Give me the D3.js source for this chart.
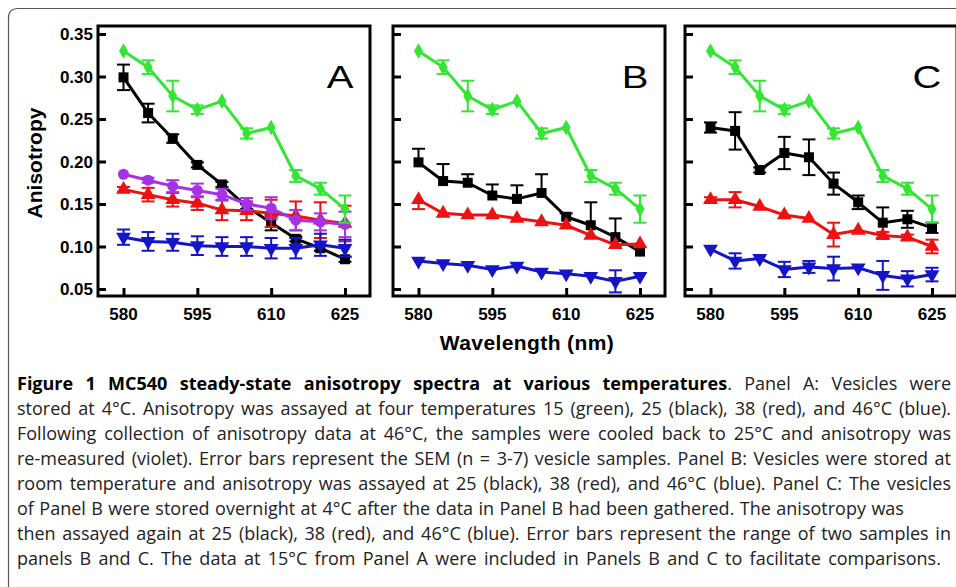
<!DOCTYPE html>
<html><head><meta charset="utf-8">
<script src="https://cdn.jsdelivr.net/npm/d3@7"></script>
<style>
html,body{margin:0;padding:0;background:#fff;}
svg{display:block;}
</style></head>
<body>
<svg id="c" width="956" height="587"></svg>
<script>
// ---------------- DATA ----------------
const wavelengths = [580, 585, 590, 595, 600, 605, 610, 615, 620, 625];
const xTicks = [580, 595, 610, 625];
const yTicks = [0.05, 0.10, 0.15, 0.20, 0.25, 0.30, 0.35];
const yTickLabels = ["0.05", "0.10", "0.15", "0.20", "0.25", "0.30", "0.35"];
const panelNames = ["A", "B", "C"];

// 15 °C (green), shared by all panels
const green15 = [0.330, 0.311, 0.277, 0.261, 0.271, 0.233, 0.240, 0.183, 0.168, 0.144];
const green15Err = [0, 0.008, 0.018, 0.005, 0, 0.006, 0, 0.007, 0.007, 0.016];

// Panel A
const aBlack25 = [0.299, 0.257, 0.227, 0.196, 0.173, 0.147, 0.128, 0.109, 0.098, 0.085];
const aBlack25Err = [0.015, 0.011, 0.005, 0.003, 0.003, 0.003, 0.009, 0.003, 0.003, 0.003];
const aRed38 = [0.167, 0.161, 0.155, 0.151, 0.143, 0.142, 0.139, 0.136, 0.131, 0.127];
const aRed38Err = [0.003, 0.008, 0.008, 0.008, 0.012, 0.011, 0.016, 0.017, 0.021, 0.021];
const aBlue46 = [0.111, 0.106, 0.105, 0.101, 0.100, 0.100, 0.098, 0.098, 0.102, 0.098];
const aBlue46Err = [0.009, 0.011, 0.010, 0.011, 0.011, 0.011, 0.012, 0.012, 0.013, 0.010];
const aViolet25 = [0.185, 0.178, 0.171, 0.166, 0.161, 0.150, 0.145, 0.131, 0.129, 0.126];
const aViolet25Err = [0, 0.003, 0.007, 0.008, 0.007, 0.007, 0.013, 0.012, 0.010, 0.015];

// Panel B
const bBlack25 = [0.199, 0.177, 0.175, 0.160, 0.156, 0.163, 0.135, 0.125, 0.111, 0.094];
const bBlack25ErrUp = [0.016, 0.020, 0.010, 0.013, 0.016, 0.022, 0.004, 0.027, 0.022, 0];
const bRed38 = [0.155, 0.139, 0.137, 0.137, 0.133, 0.129, 0.125, 0.113, 0.102, 0.103];
const bRed38ErrDown = [0.011, 0, 0, 0, 0, 0, 0, 0, 0, 0];
const bBlue46 = [0.083, 0.080, 0.078, 0.073, 0.077, 0.070, 0.068, 0.065, 0.059, 0.065];
const bBlue46Err = [0, 0, 0, 0, 0, 0, 0, 0, 0.013, 0];

// Panel C
const cBlack25 = [0.240, 0.236, 0.190, 0.210, 0.205, 0.174, 0.152, 0.128, 0.132, 0.122];
const cBlack25Err = [0.006, 0.022, 0.003, 0.019, 0.021, 0.013, 0.008, 0.018, 0.010, 0.006];
const cRed38 = [0.155, 0.155, 0.147, 0.137, 0.133, 0.114, 0.119, 0.113, 0.111, 0.100];
const cRed38Err = [0.003, 0.009, 0, 0, 0, 0.014, 0, 0.004, 0.003, 0.008];
const cBlue46 = [0.097, 0.083, 0.086, 0.073, 0.076, 0.074, 0.075, 0.066, 0.062, 0.067];
const cBlue46Err = [0, 0.009, 0, 0.009, 0.007, 0.014, 0, 0.017, 0.009, 0.008];

const yLabel = "Anisotropy";
const xLabel = "Wavelength (nm)";

const captionBold = "Figure 1 MC540 steady-state anisotropy spectra at various temperatures";
const captionLines = [
  ". Panel A: Vesicles were",
  "stored at 4°C. Anisotropy was assayed at four temperatures 15 (green), 25 (black), 38 (red), and 46°C (blue).",
  "Following collection of anisotropy data at 46°C, the samples were cooled back to 25°C and anisotropy was",
  "re-measured (violet). Error bars represent the SEM (n = 3-7) vesicle samples. Panel B: Vesicles were stored at",
  "room temperature and anisotropy was assayed at 25 (black), 38 (red), and 46°C (blue). Panel C: The vesicles",
  "of Panel B were stored overnight at 4°C after the data in Panel B had been gathered. The anisotropy was",
  "then assayed again at 25 (black), 38 (red), and 46°C (blue). Error bars represent the range of two samples in",
  "panels B and C. The data at 15°C from Panel A were included in Panels B and C to facilitate comparisons."
];

// ---------------- STYLE ----------------
const COL = {green: "#33e633", black: "#000000", red: "#ee1111", blue: "#1414c8", violet: "#a632e6"};

const panels = [
  {name: "A", left: 98, series: [
    {v: aBlack25, e: aBlack25Err, mode: "both", c: COL.black, sym: "square"},
    {v: aRed38, e: aRed38Err, mode: "both", c: COL.red, sym: "tri"},
    {v: aBlue46, e: aBlue46Err, mode: "both", c: COL.blue, sym: "triDown"},
    {v: aViolet25, e: aViolet25Err, mode: "both", c: COL.violet, sym: "circle"},
    {v: green15, e: green15Err, mode: "both", c: COL.green, sym: "diamond"}
  ]},
  {name: "B", left: 393, series: [
    {v: bBlack25, e: bBlack25ErrUp, mode: "up", c: COL.black, sym: "square"},
    {v: bRed38, e: bRed38ErrDown, mode: "down", c: COL.red, sym: "tri"},
    {v: bBlue46, e: bBlue46Err, mode: "both", c: COL.blue, sym: "triDown"},
    {v: green15, e: green15Err, mode: "both", c: COL.green, sym: "diamond"}
  ]},
  {name: "C", left: 685, series: [
    {v: cBlack25, e: cBlack25Err, mode: "both", c: COL.black, sym: "square"},
    {v: cRed38, e: cRed38Err, mode: "both", c: COL.red, sym: "tri"},
    {v: cBlue46, e: cBlue46Err, mode: "both", c: COL.blue, sym: "triDown"},
    {v: green15, e: green15Err, mode: "both", c: COL.green, sym: "diamond"}
  ]}
];

const svg = d3.select("#c");
const FW = 272, TOP = 26, BOT = 296;
const AX = "'Liberation Sans', Arial, sans-serif";

// outer rounded frame
svg.append("path")
  .attr("d", "M8.5,600 L8.5,18 Q8.5,8.5 18,8.5 L970,8.5")
  .attr("fill", "none").attr("stroke", "#555").attr("stroke-width", 1.2);

const y = d3.scaleLinear().domain([0.05, 0.35]).range([289, 34]);

const symbols = {
  square: d3.symbol().type(d3.symbolSquare).size(100),
  tri: d3.symbol().type(d3.symbolTriangle).size(95),
  triDown: d3.symbol().type(d3.symbolTriangle).size(95),
  circle: d3.symbol().type(d3.symbolCircle).size(95),
  diamond: d3.symbol().type(d3.symbolDiamond).size(70)
};

panels.forEach((p, pi) => {
  const x = d3.scaleLinear().domain([580, 625]).range([p.left + 25.5, p.left + 247]);
  const g = svg.append("g");

  // ticks (inward)
  const yAxis = d3.axisRight(y).tickValues(yTicks).tickSize(8).tickFormat("");
  g.append("g").attr("transform", `translate(${p.left},0)`).call(yAxis)
    .call(s => s.select(".domain").remove())
    .selectAll("line").attr("stroke", "#000").attr("stroke-width", 3);
  const xAxis = d3.axisTop(x).tickValues(xTicks).tickSize(8).tickFormat("");
  g.append("g").attr("transform", `translate(0,${BOT})`).call(xAxis)
    .call(s => s.select(".domain").remove())
    .selectAll("line").attr("stroke", "#000").attr("stroke-width", 3);

  // tick labels
  g.selectAll("text.xt").data(xTicks).join("text").attr("class", "xt")
    .attr("x", d => x(d)).attr("y", 319.5).attr("text-anchor", "middle")
    .attr("font-family", AX).attr("font-weight", "bold").attr("font-size", 17)
    .text(d => d);
  if (pi === 0) {
    g.selectAll("text.yt").data(yTicks).join("text").attr("class", "yt")
      .attr("x", 93).attr("y", d => y(d) + 6).attr("text-anchor", "end")
      .attr("font-family", AX).attr("font-weight", "bold").attr("font-size", 17)
      .text((d, i) => yTickLabels[i]);
  }

  // series
  p.series.forEach(s => {
    const pts = wavelengths.map((w, i) => ({w, v: s.v[i], e: s.e[i]}));
    const eb = g.append("g").attr("stroke", s.c).attr("stroke-width", 2).attr("fill", "none");
    pts.filter(d => d.e > 0).forEach(d => {
      const up = s.mode !== "down" ? d.v + d.e : d.v;
      const dn = s.mode !== "up" ? d.v - d.e : d.v;
      const cx = x(d.w);
      eb.append("line").attr("x1", cx).attr("x2", cx).attr("y1", y(up)).attr("y2", y(dn));
      if (s.mode !== "down") eb.append("line").attr("x1", cx - 6.5).attr("x2", cx + 6.5).attr("y1", y(up)).attr("y2", y(up));
      if (s.mode !== "up") eb.append("line").attr("x1", cx - 6.5).attr("x2", cx + 6.5).attr("y1", y(dn)).attr("y2", y(dn));
    });
    g.append("path").datum(pts)
      .attr("d", d3.line().x(d => x(d.w)).y(d => y(d.v)))
      .attr("fill", "none").attr("stroke", s.c).attr("stroke-width", 3).attr("stroke-linejoin", "round");
    g.selectAll(null).data(pts).join("path")
      .attr("d", symbols[s.sym])
      .attr("transform", d => `translate(${x(d.w)},${y(d.v)})` + (s.sym === "triDown" ? " rotate(180)" : ""))
      .attr("fill", s.c);
  });

  // frame
  g.append("rect").attr("x", p.left).attr("y", TOP).attr("width", FW).attr("height", BOT - TOP)
    .attr("fill", "none").attr("stroke", "#000").attr("stroke-width", 3);

  // panel letter
  const lx = p.left + FW - 30;
  g.append("text").attr("transform", `translate(${lx},88) scale(1.25,1)`)
    .attr("text-anchor", "middle").attr("font-family", AX).attr("font-size", 32)
    .text(p.name);
});

// axis titles
svg.append("text").attr("transform", "translate(42,163) rotate(-90)")
  .attr("text-anchor", "middle").attr("font-family", AX).attr("font-weight", "bold").attr("font-size", 21)
  .text(yLabel);
svg.append("text").attr("x", 527).attr("y", 350)
  .attr("text-anchor", "middle").attr("font-family", AX).attr("font-weight", "bold").attr("font-size", 21)
  .attr("letter-spacing", 0.4)
  .text(xLabel);

// caption
const CX = 17;
const targets = [934, 934, 934, 934, 934, 887, 934, 924];
const capG = svg.append("g").attr("font-family", "'Open Sans', 'Noto Sans', sans-serif").attr("font-size", 18).attr("fill", "#222");
captionLines.forEach((line, i) => {
  const t = capG.append("text").attr("x", CX).attr("y", 390 + i * 25).attr("xml:space", "preserve");
  if (i === 0) {
    t.append("tspan").attr("font-weight", "bold").attr("fill", "#000").text(captionBold);
    t.append("tspan").text(line);
  } else {
    t.text(line);
  }
  const full = i === 0 ? captionBold + line : line;
  const spaces = (full.match(/ /g) || []).length;
  const nat = t.node().getComputedTextLength();
  if (nat > targets[i]) {
    t.attr("textLength", targets[i]).attr("lengthAdjust", "spacingAndGlyphs");
  } else {
    t.attr("word-spacing", ((targets[i] - nat) / spaces).toFixed(2));
  }
});
</script>
</body></html>
